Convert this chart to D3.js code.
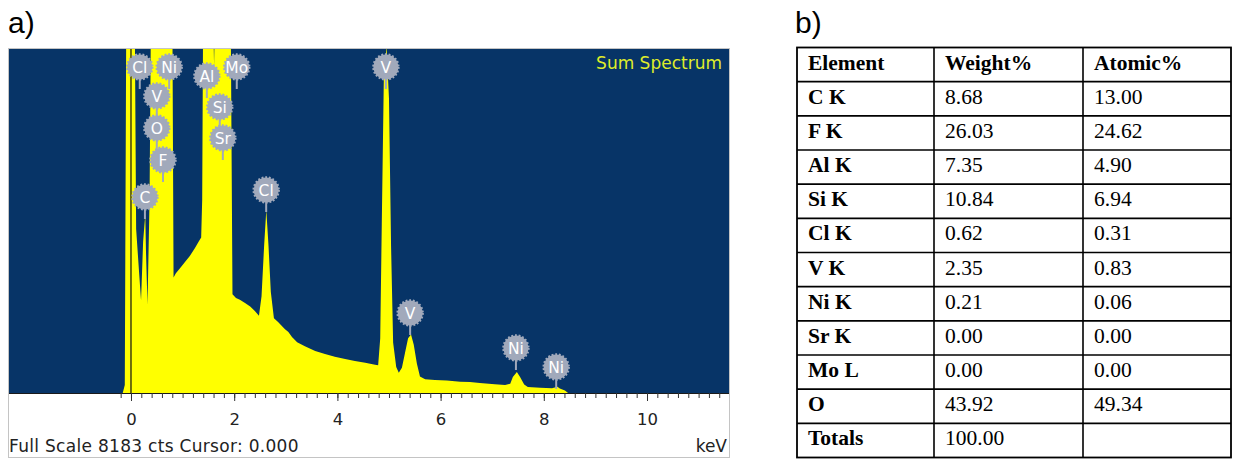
<!DOCTYPE html>
<html>
<head>
<meta charset="utf-8">
<script src="https://cdn.jsdelivr.net/npm/d3@7"></script>
<style>
  body { margin: 0; background: #fff; }
  svg { display: block; }
</style>
</head>
<body>
<svg id="chart" width="1233" height="460"></svg>
<script>
// EDS sum spectrum: [energy keV, counts]
// (values above full scale are clipped by the plot window)
const spectrum = [
  [-0.16, 0], [-0.12, 190], [-0.09, 9500], [0.07, 9500], [0.10, 3900], [0.155, 2900],
  [0.195, 2200], [0.235, 3600], [0.277, 4250], [0.29, 3400], [0.32, 2100], [0.36, 4600],
  [0.39, 9500], [0.80, 9500], [0.825, 2750], [0.87, 2850], [0.95, 2970], [1.05, 3120],
  [1.14, 3260], [1.24, 3450], [1.31, 3600], [1.36, 3700], [1.38, 4600], [1.40, 9500],
  [1.585, 9500], [1.61, 7800], [1.635, 9500], [1.93, 9500], [1.967, 2350], [2.035, 2260],
  [2.11, 2220], [2.21, 2140], [2.31, 2060], [2.40, 1950], [2.48, 1840], [2.53, 2300],
  [2.58, 3500], [2.622, 4350], [2.665, 3500], [2.71, 2400], [2.77, 1780], [2.85, 1690],
  [2.98, 1520], [3.05, 1450], [3.12, 1330], [3.22, 1210], [3.37, 1110], [3.57, 1000],
  [3.76, 930], [3.95, 860], [4.15, 810], [4.34, 760], [4.54, 720], [4.73, 670],
  [4.79, 660], [4.83, 1300], [4.86, 4000], [4.90, 7500], [4.952, 8250], [5.0, 7000],
  [5.04, 3500], [5.08, 1200], [5.14, 620], [5.19, 480], [5.25, 600], [5.31, 950],
  [5.37, 1300], [5.427, 1390], [5.48, 1150], [5.54, 700], [5.60, 390], [5.70, 330],
  [5.89, 310], [6.12, 300], [6.38, 270], [6.57, 260], [6.76, 240], [7.05, 210],
  [7.25, 190], [7.35, 220], [7.40, 380], [7.478, 500], [7.54, 380], [7.62, 200],
  [7.69, 140], [7.93, 125], [8.16, 115], [8.264, 150], [8.31, 105], [8.41, 60], [8.47, 0]
];

const fullScale = 8183;
const xMin = -2.364, xMax = 11.589;
const majorTicks = [0, 2, 4, 6, 8, 10];

// peak markers: element, line energy (keV), marker height (counts)
const peakNames  = ["Cl", "Ni", "V", "O", "F", "C", "Al", "Mo", "Si", "Sr", "Cl", "V", "V", "Ni", "Ni"];
const peakEnergy = [0.17, 0.74, 0.50, 0.50, 0.62, 0.27, 1.47, 2.05, 1.72, 1.78, 2.62, 4.94, 5.41, 7.46, 8.24];
const peakHeight = [7755, 7755, 7065, 6304, 5543, 4663, 7541, 7755, 6804, 6066, 4829, 7755, 1903, 1070, 618];

// quantification table
const tableHeader = ["Element", "Weight%", "Atomic%"];
const elements  = ["C K", "F K", "Al K", "Si K", "Cl K", "V K", "Ni K", "Sr K", "Mo L", "O", "Totals"];
const weightPct = ["8.68", "26.03", "7.35", "10.84", "0.62", "2.35", "0.21", "0.00", "0.00", "43.92", "100.00"];
const atomicPct = ["13.00", "24.62", "4.90", "6.94", "0.31", "0.83", "0.06", "0.00", "0.00", "49.34", ""];

const svg = d3.select("#chart");
const navy = "#073467", markerGrey = "#a1a9bb";
const plot = { left: 9, right: 729, top: 49, bottom: 393 };

// ---- panel a: spectrum ----
svg.append("text")
  .attr("x", 8).attr("y", 33)
  .attr("font-family", "Liberation Sans, Arial, sans-serif")
  .attr("font-size", 30)
  .text("a)");

svg.append("rect")
  .attr("x", 8.5).attr("y", 48.5)
  .attr("width", 721).attr("height", 409)
  .attr("fill", "#fff").attr("stroke", "#c4c4c4");

const x = d3.scaleLinear().domain([xMin, xMax]).range([plot.left, plot.right]);
const y = d3.scaleLinear().domain([0, fullScale]).range([plot.bottom, plot.top]);

svg.append("clipPath").attr("id", "plotClip")
  .append("rect")
  .attr("x", plot.left).attr("y", plot.top)
  .attr("width", plot.right - plot.left).attr("height", plot.bottom - plot.top);

svg.append("rect")
  .attr("x", plot.left).attr("y", plot.top)
  .attr("width", plot.right - plot.left).attr("height", plot.bottom - plot.top)
  .attr("fill", navy);

const area = d3.area()
  .x(d => x(d[0]))
  .y0(plot.bottom)
  .y1(d => y(d[1]));

svg.append("path")
  .datum(spectrum)
  .attr("clip-path", "url(#plotClip)")
  .attr("fill", "#ffff00")
  .attr("d", area);

// cursor at 0 keV
svg.append("line")
  .attr("x1", x(0)).attr("x2", x(0))
  .attr("y1", plot.top).attr("y2", plot.bottom)
  .attr("stroke", "#111").attr("stroke-width", 1.2);

svg.append("text")
  .attr("x", 722).attr("y", 69)
  .attr("text-anchor", "end")
  .attr("font-family", "DejaVu Sans, sans-serif")
  .attr("font-size", 17)
  .attr("fill", "#dfec2a")
  .text("Sum Spectrum");

// peak markers
const markers = svg.append("g").attr("clip-path", "url(#plotClip)")
  .selectAll("g")
  .data(peakNames.map((n, i) => ({ name: n, e: peakEnergy[i], h: peakHeight[i] })))
  .join("g")
  .attr("transform", d => `translate(${x(d.e)},${y(d.h)})`);

markers.append("line")
  .attr("y1", 0).attr("y2", 22)
  .attr("stroke", markerGrey).attr("stroke-width", 2);

markers.append("circle")
  .attr("r", 12.5)
  .attr("fill", markerGrey)
  .attr("stroke", markerGrey)
  .attr("stroke-width", 2.4)
  .attr("stroke-dasharray", "1.8 1.8");

markers.append("text")
  .attr("text-anchor", "middle")
  .attr("dy", "0.37em")
  .attr("font-family", "DejaVu Sans, sans-serif")
  .attr("font-size", 15.5)
  .attr("fill", "#fff")
  .text(d => d.name);

// axis line + ticks
svg.append("line")
  .attr("x1", plot.left).attr("x2", plot.right)
  .attr("y1", plot.bottom + 0.5).attr("y2", plot.bottom + 0.5)
  .attr("stroke", "#1a1a1a");

const minorAxis = d3.axisBottom(x)
  .tickValues(d3.range(-1, 58).map(k => k * 0.2).filter(v => v <= 11.6))
  .tickSize(5).tickSizeOuter(0).tickFormat("");
const majorAxis = d3.axisBottom(x)
  .tickValues(majorTicks)
  .tickSize(8).tickSizeOuter(0);

[minorAxis, majorAxis].forEach(ax => {
  const g = svg.append("g")
    .attr("transform", `translate(0,${plot.bottom})`)
    .call(ax);
  g.select(".domain").remove();
  g.selectAll("line").attr("stroke", "#333");
  g.selectAll("text")
    .attr("y", 32).attr("dy", 0)
    .attr("font-family", "DejaVu Sans, sans-serif")
    .attr("font-size", 16.5)
    .attr("fill", "#222");
});

svg.append("text")
  .attr("x", 9).attr("y", 452)
  .attr("font-family", "DejaVu Sans, sans-serif")
  .attr("font-size", 17)
  .attr("letter-spacing", 0.3)
  .attr("fill", "#222")
  .text("Full Scale " + fullScale + " cts Cursor: 0.000");

svg.append("text")
  .attr("x", 727).attr("y", 452)
  .attr("text-anchor", "end")
  .attr("font-family", "DejaVu Sans, sans-serif")
  .attr("font-size", 17)
  .attr("fill", "#222")
  .text("keV");

// ---- panel b: table ----
svg.append("text")
  .attr("x", 795).attr("y", 33)
  .attr("font-family", "Liberation Sans, Arial, sans-serif")
  .attr("font-size", 30)
  .text("b)");

const rows = [tableHeader].concat(elements.map((e, i) => [e, weightPct[i], atomicPct[i]]));
const colEdges = [797, 934, 1083, 1231];
const rowBand = d3.scaleBand().domain(d3.range(rows.length)).range([47.5, 457.5]);

const table = svg.append("g");
table.append("rect")
  .attr("x", colEdges[0]).attr("y", rowBand.range()[0])
  .attr("width", colEdges[3] - colEdges[0])
  .attr("height", rowBand.range()[1] - rowBand.range()[0])
  .attr("fill", "none").attr("stroke", "#000").attr("stroke-width", 1.8);

table.selectAll(".hline")
  .data(d3.range(1, rows.length))
  .join("line")
  .attr("x1", colEdges[0]).attr("x2", colEdges[3])
  .attr("y1", r => rowBand(r)).attr("y2", r => rowBand(r))
  .attr("stroke", "#000").attr("stroke-width", 1.6);

table.selectAll(".vline")
  .data([1, 2])
  .join("line")
  .attr("x1", c => colEdges[c]).attr("x2", c => colEdges[c])
  .attr("y1", rowBand.range()[0]).attr("y2", rowBand.range()[1])
  .attr("stroke", "#000").attr("stroke-width", 1.6);

rows.forEach((row, r) => {
  row.forEach((cell, c) => {
    table.append("text")
      .attr("x", colEdges[c] + 11)
      .attr("y", rowBand(r) + rowBand.bandwidth() / 2 + 5)
      .attr("font-family", "Liberation Serif, Times New Roman, serif")
      .attr("font-size", 21.5)
      .attr("font-weight", (r === 0 || c === 0) ? "bold" : "normal")
      .attr("fill", "#000")
      .text(cell);
  });
});
</script>
</body>
</html>
